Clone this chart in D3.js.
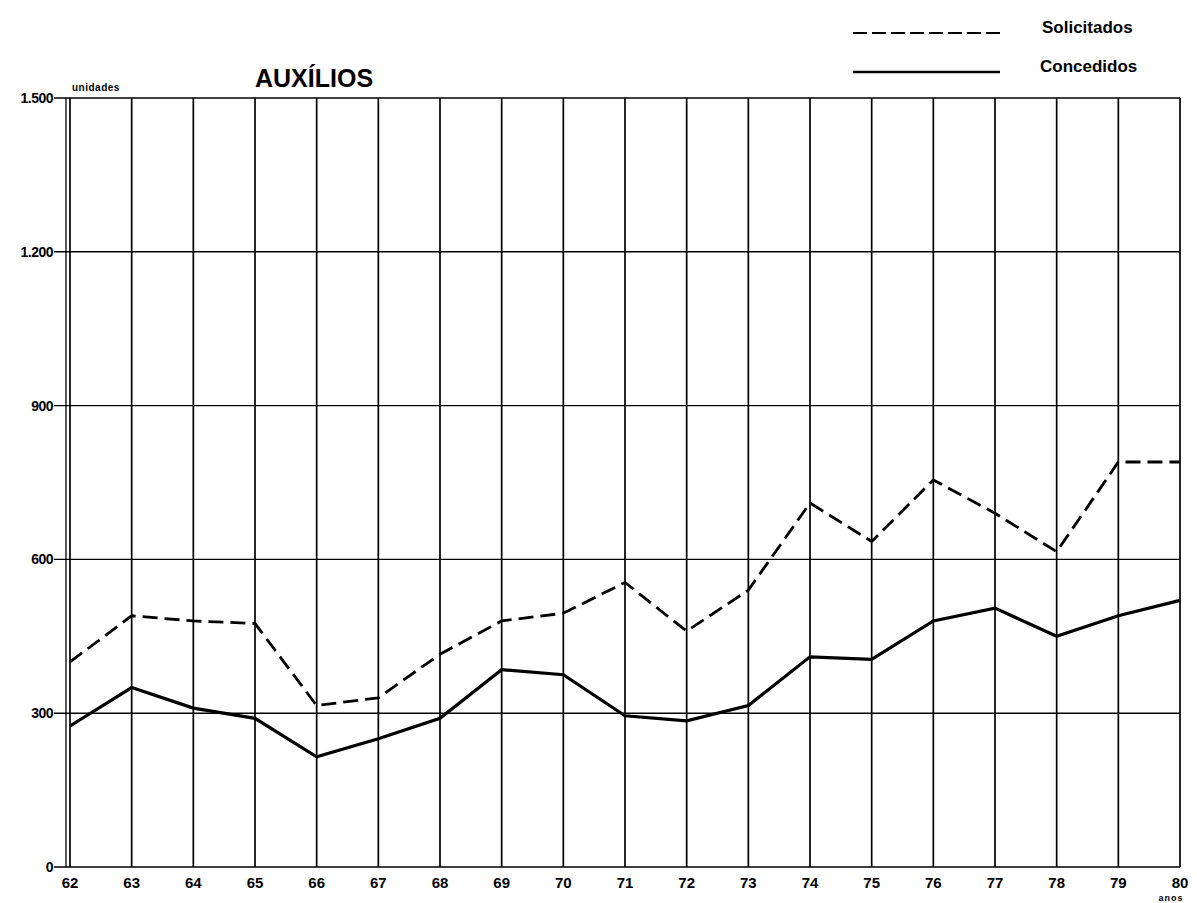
<!doctype html>
<html>
  <head>
    <meta charset="utf-8">
    <title>Auxílios</title>
    <script src="https://cdnjs.cloudflare.com/ajax/libs/d3/7.8.5/d3.min.js"></script>
    <style>
      body { margin: 0; background: #fff; }
      text { font-family: "Liberation Sans", Arial, sans-serif; font-weight: bold; fill: #000; }
    </style>
  </head>
  <body>
    <div id="chart"></div>
    <script>
      // data
      const years = [62, 63, 64, 65, 66, 67, 68, 69, 70, 71, 72, 73, 74, 75, 76, 77, 78, 79, 80];
      const solicitados = [400, 490, 480, 475, 315, 330, 415, 480, 495, 555, 460, 540, 710, 635, 755, 690, 615, 790, 790];
      const concedidos = [275, 350, 310, 290, 215, 250, 290, 385, 375, 295, 285, 315, 410, 405, 480, 505, 450, 490, 520];
      const yTicks = [0, 300, 600, 900, 1200, 1500];
      const yTickLabels = ["0", "300", "600", "900", "1.200", "1.500"];

      const width = 1197, height = 903;
      const svg = d3.select('#chart').append('svg')
        .attr('width', width)
        .attr('height', height);

      const x = d3.scaleLinear().domain([62, 80]).range([70, 1180]);
      const y = d3.scaleLinear().domain([0, 1500]).range([867, 98]);

      // grid
      svg.append('g')
        .selectAll('line')
        .data(years)
        .join('line')
        .attr('x1', d => x(d)).attr('x2', d => x(d))
        .attr('y1', y(1500)).attr('y2', y(0))
        .attr('stroke', '#000')
        .attr('stroke-width', 1.7);

      svg.append('g')
        .selectAll('line')
        .data(yTicks)
        .join('line')
        .attr('x1', x(62) - 16).attr('x2', x(80))
        .attr('y1', d => y(d)).attr('y2', d => y(d))
        .attr('stroke', '#000')
        .attr('stroke-width', 1.4);

      // second line of the left axis
      svg.append('line')
        .attr('x1', x(62) - 4).attr('x2', x(62) - 4)
        .attr('y1', y(1500)).attr('y2', y(0))
        .attr('stroke', '#000')
        .attr('stroke-width', 1.3);

      // y labels
      svg.append('g')
        .selectAll('text')
        .data(yTicks)
        .join('text')
        .attr('x', x(62) - 17)
        .attr('y', d => y(d) + 5)
        .attr('text-anchor', 'end')
        .style('font-size', '14px')
        .style('letter-spacing', '-0.5px')
        .text((d, i) => yTickLabels[i]);

      // x labels
      svg.append('g')
        .selectAll('text')
        .data(years)
        .join('text')
        .attr('x', d => x(d))
        .attr('y', 888)
        .attr('text-anchor', 'middle')
        .style('font-size', '15px')
        .text(d => d);

      svg.append('text')
        .attr('x', x(80) - 9).attr('y', 901)
        .attr('text-anchor', 'middle')
        .style('font-size', '9px')
        .style('letter-spacing', '1px')
        .text('anos');

      // lines
      const line = d3.line()
        .x((d, i) => x(years[i]))
        .y(d => y(d));

      svg.append('path')
        .datum(solicitados)
        .attr('d', line)
        .attr('fill', 'none')
        .attr('stroke', '#000')
        .attr('stroke-width', 2.8)
        .attr('stroke-dasharray', '15,7');

      svg.append('path')
        .datum(concedidos)
        .attr('d', line)
        .attr('fill', 'none')
        .attr('stroke', '#000')
        .attr('stroke-width', 3.2);

      // titles
      svg.append('text')
        .attr('x', 255).attr('y', 87)
        .style('font-size', '25px')
        .text('AUXÍLIOS');

      svg.append('text')
        .attr('x', 72).attr('y', 91)
        .style('font-size', '10px')
        .style('letter-spacing', '0.5px')
        .text('unidades');

      // legend
      svg.append('line')
        .attr('x1', 853).attr('x2', 1000)
        .attr('y1', 33).attr('y2', 33)
        .attr('stroke', '#000')
        .attr('stroke-width', 2.2)
        .attr('stroke-dasharray', '14,5');
      svg.append('line')
        .attr('x1', 853).attr('x2', 1000)
        .attr('y1', 72).attr('y2', 72)
        .attr('stroke', '#000')
        .attr('stroke-width', 2.6);

      svg.append('text')
        .attr('x', 1042).attr('y', 33)
        .style('font-size', '17px')
        .text('Solicitados');
      svg.append('text')
        .attr('x', 1040).attr('y', 72)
        .style('font-size', '17px')
        .text('Concedidos');
    </script>
  </body>
</html>
